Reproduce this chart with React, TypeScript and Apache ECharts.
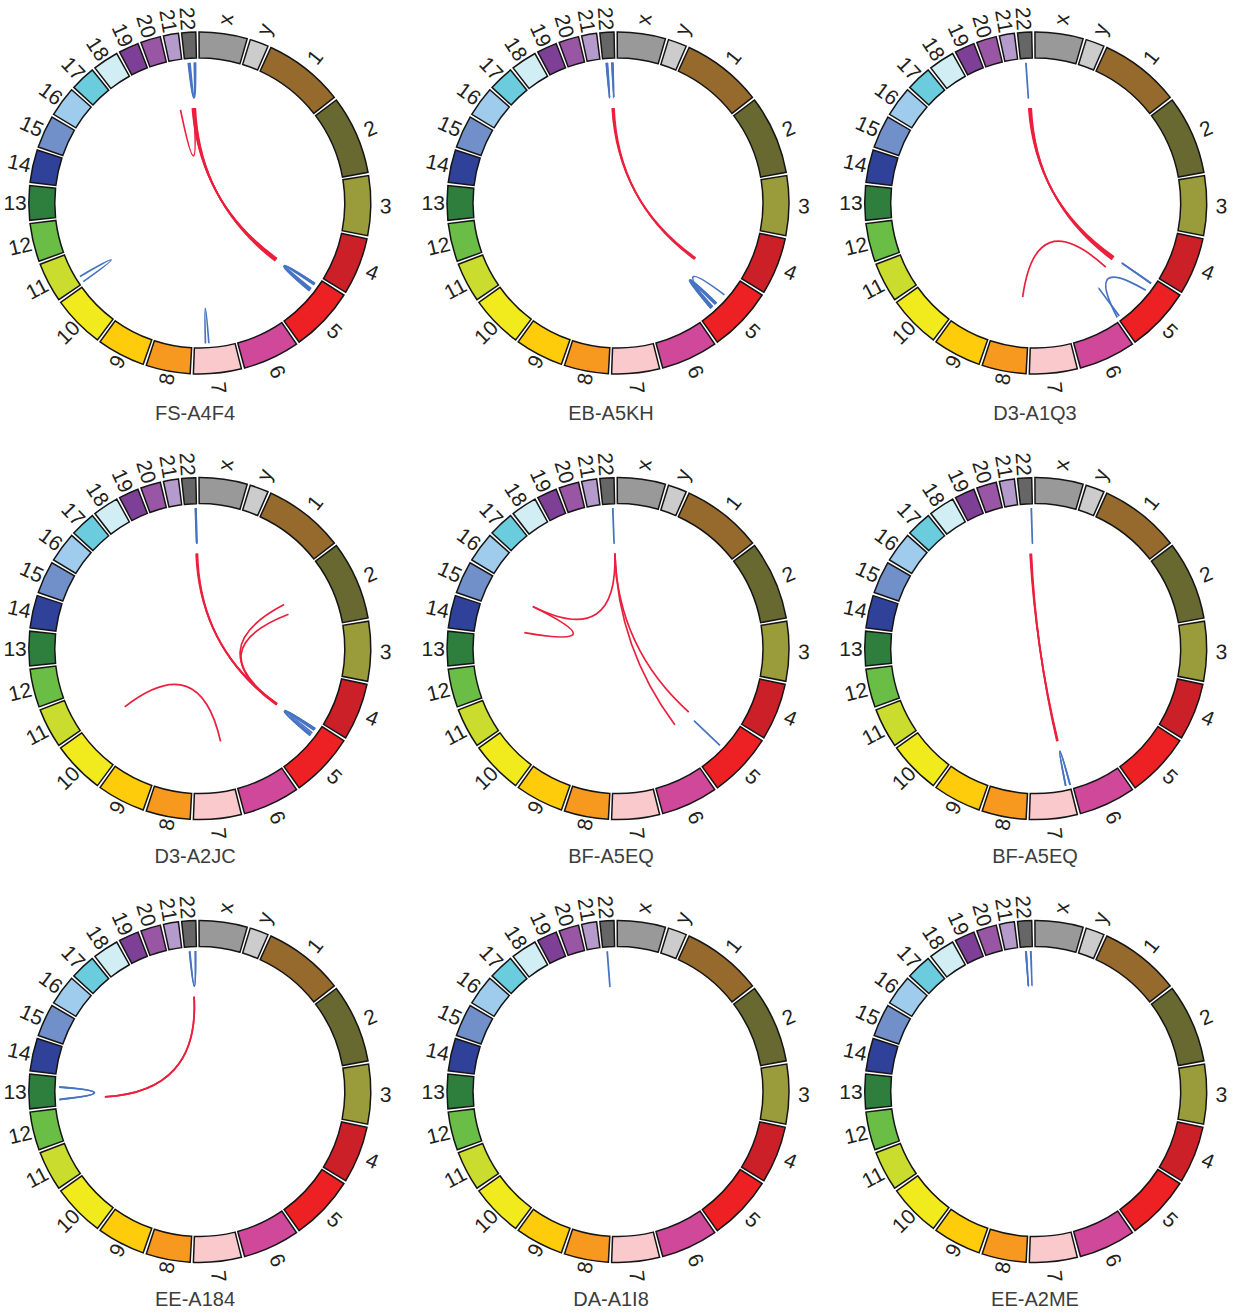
import React, { useEffect, useRef } from 'react';
import * as echarts from 'echarts';

// ---------- data ----------
const CHROMS = ['x', 'y', '1', '2', '3', '4', '5', '6', '7', '8', '9', '10', '11', '12', '13', '14', '15', '16', '17', '18', '19', '20', '21', '22'];
// chromosome sizes (Mb) as drawn
const CHROM_SIZES = [151, 61, 249, 244, 186, 178, 201, 177, 150, 139, 151, 163, 125, 121, 109, 104, 103, 96, 81, 83, 65, 65, 50, 47];
const CHROM_COLORS = [
  '#999999', '#cccccc', '#956a2c', '#676930', '#9a9c3b', '#cb2027', '#ed2024', '#cf4899',
  '#f9c9cb', '#f7991f', '#fecc0a', '#f1ea1d', '#cadc2d', '#6bbe45', '#2e7f3e', '#2f4198',
  '#7190ca', '#9fcbec', '#6accdd', '#d2eef5', '#7e3f97', '#9956a4', '#b59bcb', '#666666',
];
const GAP = 5.4; // Mb-equivalent gap between chromosomes

const SAMPLES = ['FS-A4F4', 'EB-A5KH', 'D3-A1Q3', 'D3-A2JC', 'BF-A5EQ', 'BF-A5EQ', 'EE-A184', 'DA-A1I8', 'EE-A2ME'];

type Link = [string, number, string, number]; // chrA, posA (Mb), chrB, posB (Mb)

const LINKS_FS_A4F4: Link[] = [
  ['22', 14.7, '22', 39.8], ['22', 17.4, '22', 36.8], ['22', 21.0, '22', 41.3],
  ['5', 24.1, '5', 55.5], ['5', 26.8, '5', 51.0], ['5', 29.5, '5', 57.3], ['5', 23.2, '5', 47.4],
  ['11', 6.2, '11', 28.6],
  ['7', 95.4, '7', 107.9],
  ['22', 16.5, '5', 30.5], ['22', 20.5, '5', 34.5], ['22', 24.5, '5', 38.5], ['22', 28.5, '5', 42.5], ['22', 32.5, '5', 46.5],
  ['21', 7.3, '22', 23.8],
];
const LINKS_EB_A5KH: Link[] = [
  ['22', 13.8, '22', 16.5], ['22', 14.7, '22', 18.3], ['22', 34.4, '22', 38.0], ['22', 35.3, '22', 37.1],
  ['5', 76.1, '5', 142.5], ['5', 117.4, '5', 145.2], ['5', 121.0, '5', 140.7], ['5', 124.6, '5', 146.1], ['5', 119.2, '5', 137.1],
  ['22', 25.5, '5', 26.8], ['22', 30.0, '5', 31.3], ['22', 35.3, '5', 35.8],
];
const LINKS_D3_A1Q3: Link[] = [
  ['22', 20.8, '22', 21.2],
  ['5', 22.2, '5', 22.6], ['5', 23.0, '5', 23.5],
  ['5', 190.0, '5', 190.6],
  ['5', 54.6, '5', 199.5],
  ['22', 19.2, '5', 19.6], ['22', 23.7, '5', 25.9], ['22', 28.2, '5', 31.3], ['22', 32.6, '5', 37.6],
  ['5', 91.4, '8', 44.0],
];
const LINKS_D3_A2JC: Link[] = [
  ['22', 40.5, '22', 41.5], ['22', 41.8, '22', 43.0], ['22', 42.3, '22', 42.8],
  ['5', 21.4, '5', 53.7], ['5', 24.1, '5', 46.5], ['5', 28.6, '5', 51.0], ['5', 22.3, '5', 40.3],
  ['22', 37.1, '5', 28.6], ['22', 40.7, '5', 32.2], ['22', 44.3, '5', 35.8],
  ['2', 86.9, '5', 30.0], ['2', 144.8, '5', 33.0],
  ['10', 140.5, '7', 15.6],
];
const LINKS_BF_A5EQ_1: Link[] = [
  ['22', 37.5, '22', 38.0],
  ['5', 100.3, '5', 100.7],
  ['22', 39.8, '15', 66.4],
  ['15', 66.4, '14', 26.9],
  ['22', 39.8, '5', 188.2],
  ['22', 39.8, '5', 86.0],
];
const LINKS_BF_A5EQ_2: Link[] = [
  ['22', 40.5, '22', 41.0],
  ['7', 1.2, '7', 18.3], ['7', 1.8, '7', 17.6],
  ['22', 26.4, '7', 7.5], ['22', 30.0, '7', 10.2], ['22', 33.5, '7', 12.9],
];
const LINKS_EE_A184: Link[] = [
  ['22', 19.0, '22', 41.5], ['22', 20.5, '22', 40.5],
  ['13', 24.7, '13', 71.3], ['13', 25.5, '13', 70.0],
  ['22', 25.5, '13', 25.2], ['22', 26.0, '13', 25.6],
];
const LINKS_DA_A1I8: Link[] = [
  ['22', 17.2, '22', 17.6],
];
const LINKS_EE_A2ME: Link[] = [
  ['22', 20.5, '22', 21.5], ['22', 38.5, '22', 39.5], ['22', 21.0, '22', 22.0],
];

const SAMPLE_LINKS = [
  LINKS_FS_A4F4, LINKS_EB_A5KH, LINKS_D3_A1Q3,
  LINKS_D3_A2JC, LINKS_BF_A5EQ_1, LINKS_BF_A5EQ_2,
  LINKS_EE_A184, LINKS_DA_A1I8, LINKS_EE_A2ME,
];

// ---------- layout / style ----------
const COL_X = [199.8, 618, 1035.7];
const ROW_Y = [203, 648.6, 1091.5];
const TITLE_X = [195, 611, 1035];
const TITLE_Y = [413, 855.5, 1299];
const OUTER_R = 171;
const INNER_FRAC = 0.848;
const INTRA_R = 0.822;
const INTER_R = 0.556;
const LABEL_OUT = 1.053;
const LABEL_IN = 1.012;
const START_ANGLE = 90.8;
const SEG_PAD = 0.0042; // radians trimmed at each end of a segment
const RED = '#ec1f3d';
const BLUE = '#4673c2';
const FONT = '"Liberation Sans", Arial, Helvetica, sans-serif';

function buildOption() {
  const chromStart: number[] = [];
  let acc = GAP / 2;
  CHROM_SIZES.forEach((s) => {
    chromStart.push(acc);
    acc += s + GAP;
  });
  const TOTAL = acc - GAP / 2;
  const idxOf = (c: string) => CHROMS.indexOf(c);

  const polar: any[] = [];
  const angleAxis: any[] = [];
  const radiusAxis: any[] = [];
  const series: any[] = [];
  const graphic: any[] = [];

  SAMPLES.forEach((name, i) => {
    const cx = COL_X[i % 3];
    const cy = ROW_Y[Math.floor(i / 3)];
    polar.push({ center: [cx, cy], radius: OUTER_R });
    angleAxis.push({
      polarIndex: i, type: 'value', min: 0, max: TOTAL, startAngle: START_ANGLE, clockwise: true,
      show: false, axisLine: { show: false }, axisTick: { show: false }, axisLabel: { show: false }, splitLine: { show: false },
    });
    radiusAxis.push({
      polarIndex: i, type: 'value', min: 0, max: 1, show: false,
      axisLine: { show: false }, axisTick: { show: false }, axisLabel: { show: false }, splitLine: { show: false },
    });

    // ring of chromosomes
    series.push({
      type: 'custom',
      coordinateSystem: 'polar',
      polarIndex: i,
      silent: true,
      encode: { angle: 0, radius: 3 },
      data: CHROM_SIZES.map((s, k) => [chromStart[k], chromStart[k] + s, k, 1]),
      renderItem: (params: any, api: any) => {
        const cs = params.coordSys;
        const s = api.value(0);
        const e = api.value(1);
        const k = api.value(2);
        const p0 = api.coord([1, s]);
        const p1 = api.coord([1, e]);
        const pm = api.coord([1, (s + e) / 2]);
        const a0 = Math.atan2(p0[1] - cs.cy, p0[0] - cs.cx);
        let a1 = Math.atan2(p1[1] - cs.cy, p1[0] - cs.cx);
        while (a1 < a0) a1 += Math.PI * 2;
        const am = Math.atan2(pm[1] - cs.cy, pm[0] - cs.cx);
        const theta = (((am * 180) / Math.PI + 90) % 360 + 360) % 360;
        const right = theta < 180;
        const lr = cs.r * (right ? LABEL_OUT : LABEL_IN);
        const lx = cs.cx + lr * Math.cos(am);
        const ly = cs.cy + lr * Math.sin(am);
        const rot = ((right ? 90 - theta : 270 - theta) * Math.PI) / 180;
        return {
          type: 'group',
          children: [
            {
              type: 'sector',
              shape: {
                cx: cs.cx, cy: cs.cy, r0: cs.r * INNER_FRAC, r: cs.r,
                startAngle: a0 + SEG_PAD, endAngle: a1 - SEG_PAD, clockwise: true,
              },
              style: { fill: CHROM_COLORS[k], stroke: '#151515', lineWidth: 1.5 },
            },
            {
              type: 'text',
              x: lx,
              y: ly,
              rotation: rot,
              style: {
                text: CHROMS[k], fill: '#231f20', fontSize: 21, fontFamily: FONT,
                align: right ? 'left' : 'right', verticalAlign: 'middle',
              },
            },
          ],
        };
      },
    });

    // links
    const links = SAMPLE_LINKS[i];
    series.push({
      type: 'custom',
      coordinateSystem: 'polar',
      polarIndex: i,
      silent: true,
      encode: { angle: 0, radius: 3 },
      data: links.map((l) => [
        chromStart[idxOf(l[0])] + l[1],
        chromStart[idxOf(l[2])] + l[3],
        l[0] === l[2] ? 1 : 0,
        0.5,
      ]),
      renderItem: (params: any, api: any) => {
        const a = api.value(0);
        const b = api.value(1);
        const intra = api.value(2) === 1;
        const R = intra ? INTRA_R : INTER_R;
        const p0 = api.coord([R, a]);
        const p2 = api.coord([R, b]);
        const c = intra ? api.coord([R * 0.5, (a + b) / 2]) : api.coord([0, a]);
        return {
          type: 'bezierCurve',
          shape: { x1: p0[0], y1: p0[1], x2: p2[0], y2: p2[1], cpx1: c[0], cpy1: c[1] },
          style: { stroke: intra ? BLUE : RED, fill: null, lineWidth: 1.7 },
        };
      },
    });

    graphic.push({
      type: 'text',
      x: TITLE_X[i % 3],
      y: TITLE_Y[Math.floor(i / 3)],
      style: {
        text: name, fill: '#3d3d3d', fontSize: 20, fontFamily: FONT,
        align: 'center', verticalAlign: 'middle',
      },
    });
  });

  return {
    animation: false,
    backgroundColor: '#ffffff',
    polar,
    angleAxis,
    radiusAxis,
    series,
    graphic,
  };
}

export default function App() {
  const ref = useRef<HTMLDivElement>(null);
  useEffect(() => {
    if (!ref.current) return;
    const chart = echarts.init(ref.current, undefined, { renderer: 'svg' });
    chart.setOption(buildOption() as any);
    return () => chart.dispose();
  }, []);
  return (
    <div
      ref={ref}
      style={{ position: 'absolute', left: 0, top: 0, width: 1233, height: 1314, background: '#fff' }}
    />
  );
}
